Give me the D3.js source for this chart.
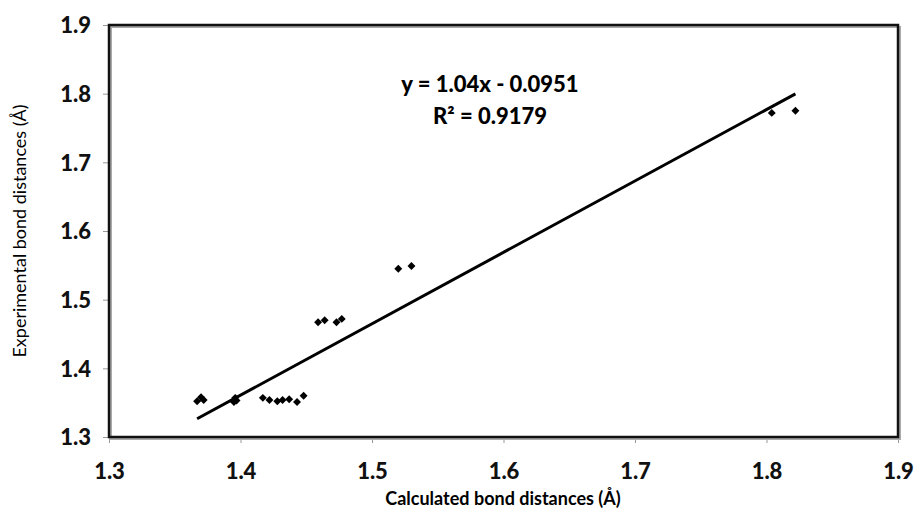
<!DOCTYPE html>
<html>
<head>
<meta charset="utf-8">
<script src="https://cdn.jsdelivr.net/npm/d3@7"></script>
<style>
  body { margin: 0; background: #fff; }
  svg text { font-family: Lato, "Open Sans", sans-serif; }
</style>
</head>
<body>
<div id="chart"></div>
<script>
// calculated (x) vs experimental (y) bond distances
var calc = [1.367, 1.370, 1.372, 1.395, 1.396, 1.397, 1.417, 1.422, 1.428, 1.432, 1.437, 1.443, 1.448,
            1.459, 1.464, 1.473, 1.477, 1.520, 1.530, 1.804, 1.822]
var expt = [1.352, 1.358, 1.354, 1.351, 1.357, 1.353, 1.357, 1.354, 1.352, 1.354, 1.355, 1.351, 1.360,
            1.467, 1.470, 1.467, 1.472, 1.545, 1.549, 1.772, 1.775]
var xTicks = [1.3, 1.4, 1.5, 1.6, 1.7, 1.8, 1.9]
var yTicks = [1.3, 1.4, 1.5, 1.6, 1.7, 1.8, 1.9]
var slope = 1.04, intercept = -0.0951, r2 = 0.9179

var w = 919, h = 513
var padL = 109, padR = 898, padT = 25, padB = 437

var svg = d3.select('#chart').append('svg')
  .attr('width', w)
  .attr('height', h)

var x = d3.scaleLinear().domain([1.3, 1.9]).range([padL, padR])
var y = d3.scaleLinear().domain([1.3, 1.9]).range([padB, padT])

// axes (ticks outside, grey)
var xAxis = svg.append('g')
  .attr('transform', 'translate(0,' + padB + ')')
  .call(d3.axisBottom(x).tickValues(xTicks).tickSize(6).tickFormat(d3.format('.1f')))
var yAxis = svg.append('g')
  .attr('transform', 'translate(' + padL + ',0)')
  .call(d3.axisLeft(y).tickValues(yTicks).tickSize(6).tickFormat(d3.format('.1f')))

;[xAxis, yAxis].forEach(function(g){
  g.select('.domain').remove()
  g.selectAll('line').attr('stroke', '#999')
  g.selectAll('text')
    .attr('fill', '#111')
    .style('font-size', '22px')
    .style('font-weight', '900')
})
xAxis.selectAll('text').attr('dy', '1.5em')
yAxis.selectAll('text').attr('x', -18).attr('dy', '0.35em')

// plot frame with a soft shadow
svg.append('rect')
  .attr('x', padL + 2).attr('y', padT + 2)
  .attr('width', padR - padL).attr('height', padB - padT)
  .attr('fill', 'none').attr('stroke', '#aaa').attr('stroke-width', 2)
svg.append('rect')
  .attr('x', padL).attr('y', padT)
  .attr('width', padR - padL).attr('height', padB - padT)
  .attr('fill', 'none').attr('stroke', '#111').attr('stroke-width', 2.5)

// trend line over data range
var x0 = d3.min(calc), x1 = d3.max(calc)
svg.append('line')
  .attr('x1', x(x0)).attr('y1', y(slope * x0 + intercept))
  .attr('x2', x(x1)).attr('y2', y(slope * x1 + intercept))
  .attr('stroke', '#000')
  .attr('stroke-width', 3)

// markers (square diamonds)
svg.selectAll('path.pt')
  .data(calc)
  .enter()
  .append('path')
  .attr('class', 'pt')
  .attr('d', d3.symbol().type(d3.symbolDiamond2).size(40))
  .attr('transform', function(d, i){
    return 'translate(' + x(d) + ',' + y(expt[i]) + ')'
  })
  .attr('fill', '#000')

// equation text
svg.append('text')
  .attr('x', 490).attr('y', 92)
  .attr('text-anchor', 'middle')
  .style('font-size', '22px').style('font-weight', '900')
  .text('y = ' + slope.toFixed(2) + 'x - ' + Math.abs(intercept))
svg.append('text')
  .attr('x', 490).attr('y', 124)
  .attr('text-anchor', 'middle')
  .style('font-size', '22px').style('font-weight', '900')
  .text('R² = ' + r2)

// axis titles
svg.append('text')
  .attr('x', 503).attr('y', 505)
  .attr('text-anchor', 'middle')
  .style('font-size', '18px').style('font-weight', 'bold')
  .text('Calculated bond distances (Å)')
svg.append('text')
  .attr('transform', 'translate(26,231) rotate(-90)')
  .attr('text-anchor', 'middle')
  .style('font-size', '18px')
  .text('Experimental bond distances (Å)')
</script>
</body>
</html>
